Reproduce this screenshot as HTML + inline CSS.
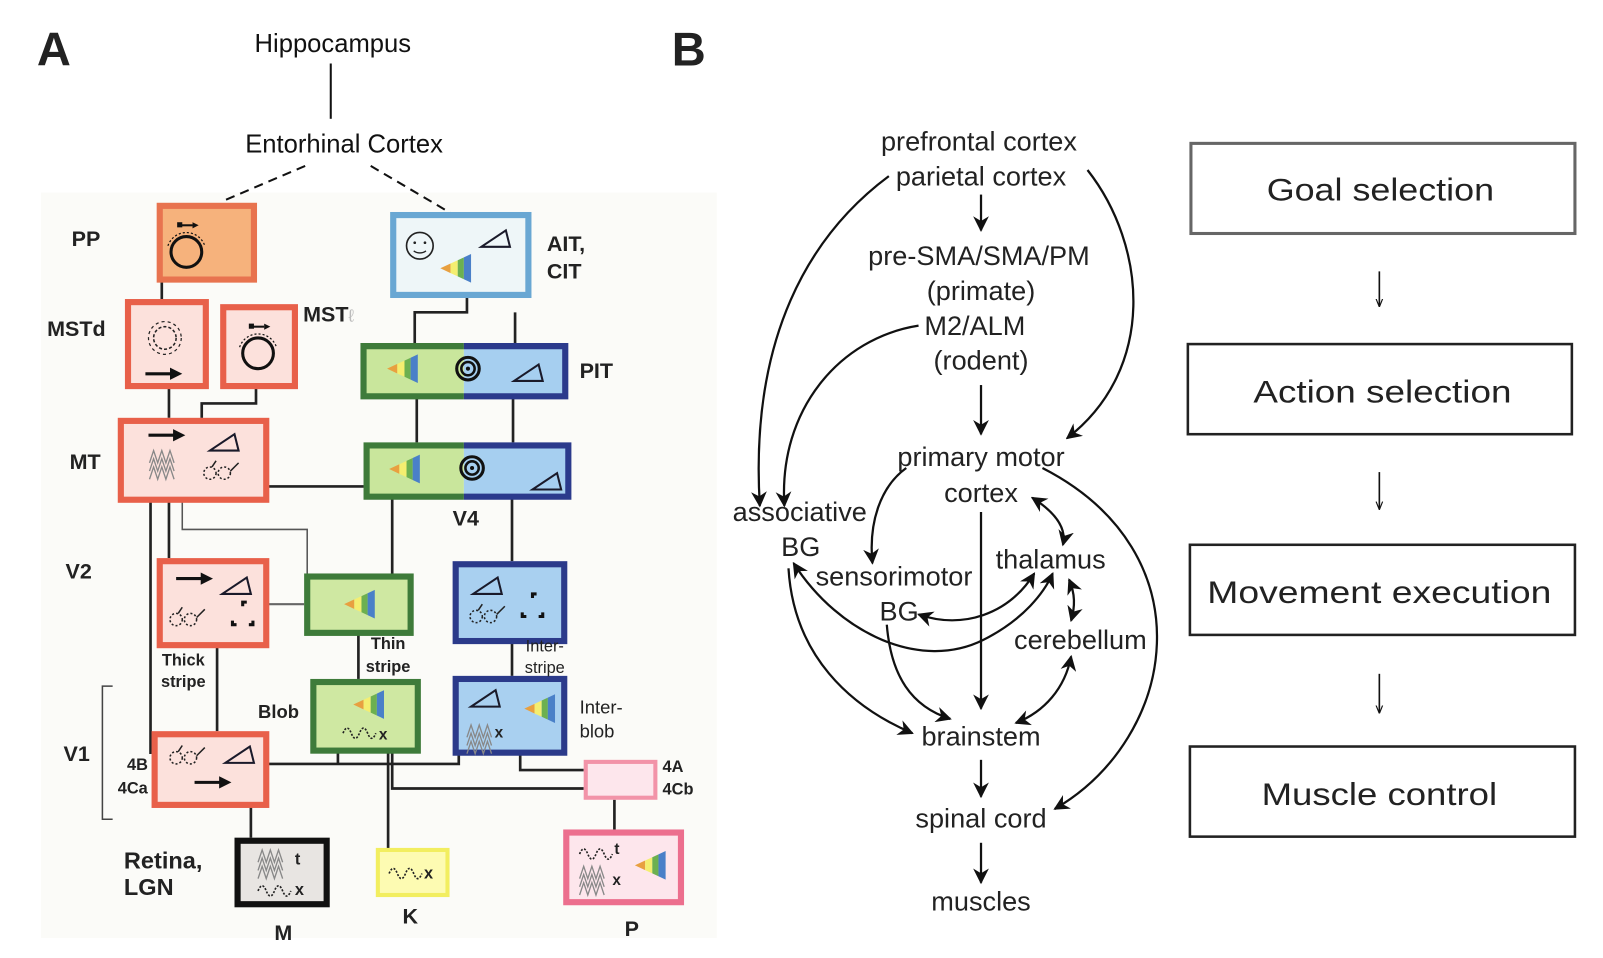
<!DOCTYPE html>
<html><head><meta charset="utf-8"><style>
html,body{margin:0;padding:0;background:#fff;}
svg{display:block;}
.a{font-family:"Liberation Sans",Arial,sans-serif;font-weight:bold;fill:#222;}
.b{font-family:"Liberation Sans",Arial,sans-serif;fill:#222;font-size:26.5px;text-anchor:middle;}
.ln{stroke:#222;stroke-width:2.6;fill:none;}
.cv{stroke:#111;stroke-width:2.2;fill:none;}
</style></head><body>
<svg width="1603" height="958" viewBox="0 0 1565.4 935.5" xmlns="http://www.w3.org/2000/svg">
<defs>
<marker id="ah" viewBox="0 0 10 10" refX="9" refY="5" markerWidth="7" markerHeight="7" orient="auto-start-reverse"><path d="M0,0 L10,5 L0,10 L3,5 Z" fill="#111"/></marker>
<marker id="ah2" viewBox="0 0 10 10" refX="9" refY="5" markerWidth="5" markerHeight="6" orient="auto"><path d="M0,1 L10,5 L0,9" fill="none" stroke="#111" stroke-width="1.4"/></marker>
<g id="spec">
<polygon points="0,0 10,-4.7 10,4.7" fill="#e8a040"/>
<polygon points="10,-4.7 17,-7.9 17,7.9 10,4.7" fill="#f4ee70"/>
<polygon points="17,-7.9 23,-10.7 23,10.7 17,7.9" fill="#6cb050"/>
<polygon points="23,-10.7 30,-14 30,14 23,10.7" fill="#4a80c8"/>
</g>
<g id="ang"><path d="M0,0 H28 L24,-16 Z" fill="none" stroke="#1a1a2a" stroke-width="2"/></g>
<g id="arr"><line x1="0" y1="0" x2="26" y2="0" stroke="#111" stroke-width="3"/><polygon points="24,-6 36,0 24,6" fill="#111"/></g>
<g id="conc"><circle r="11" fill="none" stroke="#111" stroke-width="3"/><circle r="6.5" fill="none" stroke="#111" stroke-width="2.5"/><circle r="2" fill="#111"/></g>
<g id="gls"><circle cx="0" cy="0" r="6" fill="none" stroke="#222" stroke-width="1.5" stroke-dasharray="2 2"/><circle cx="14" cy="0" r="6" fill="none" stroke="#222" stroke-width="1.5" stroke-dasharray="2 2"/><path d="M20,-2 L28,-10" stroke="#222" stroke-width="1.5"/><path d="M2,-6 L6,-12" stroke="#222" stroke-width="1.5"/></g>
<g id="sin"><path d="M0,0 q4,-10 8,0 t8,0 t8,0 t8,0" fill="none" stroke="#222" stroke-width="1.6" stroke-dasharray="2 1.5"/></g>
<g id="grat"><path d="M0,0 l4,-12 l4,12 l4,-12 l4,12 l4,-12 l4,12 M0,8 l4,-12 l4,12 l4,-12 l4,12 l4,-12 l4,12 M0,16 l4,-12 l4,12 l4,-12 l4,12 l4,-12 l4,12" fill="none" stroke="#888" stroke-width="1.3"/></g>
<g id="kan"><path d="M0,-6 v-4 h4" stroke="#111" stroke-width="3" fill="none"/><path d="M-10,8 v4 h4" stroke="#111" stroke-width="3" fill="none"/><path d="M10,8 v4 h-4" stroke="#111" stroke-width="3" fill="none"/></g>
<g id="head"><circle cx="0" cy="0" r="15" fill="none" stroke="#111" stroke-width="3"/><path d="M-18,-6 A19,19 0 0 1 18,-6" fill="none" stroke="#111" stroke-width="1.2" stroke-dasharray="2 2"/><line x1="-6" y1="-26" x2="6" y2="-26" stroke="#111" stroke-width="2"/><polygon points="6,-29 12,-26 6,-23" fill="#111"/><rect x="-9" y="-29" width="5" height="5" fill="#111"/></g>
</defs>

<!-- ================= PANEL A ================= -->
<rect x="40" y="188" width="660" height="728" fill="#fbfbf8"/>
<text x="36" y="64" class="a" font-size="46">A</text>
<text x="325" y="51" font-family="Liberation Sans,Arial,sans-serif" font-size="25" text-anchor="middle" fill="#111">Hippocampus</text>
<line x1="323" y1="62" x2="323" y2="116" stroke="#111" stroke-width="2"/>
<text x="336" y="149" font-family="Liberation Sans,Arial,sans-serif" font-size="25" text-anchor="middle" fill="#111">Entorhinal Cortex</text>
<line x1="298" y1="162" x2="216" y2="197" stroke="#111" stroke-width="2" stroke-dasharray="9 6"/>
<line x1="362" y1="162" x2="440" y2="208" stroke="#111" stroke-width="2" stroke-dasharray="9 6"/>

<!-- connectors -->
<g class="ln">
<path d="M158,275 V292"/>
<path d="M165,379 V408"/>
<path d="M250,379 V394 H197 V408"/>
<path d="M456,290 V305 H405 V335 M503,305 V335"/>
<path d="M407,389 V432 M501,389 V432"/>
<path d="M262,475 H355"/>
<path d="M383,487 V560 M500,487 V548"/>
<path d="M147,490 V735 H148"/>
<path d="M165,490 V545"/>
<path d="M212,632 V714"/>
<path d="M350,620 V663"/>
<path d="M500,628 V660"/>
<path d="M262,746 H448 V737 M330,735 V746"/>
<path d="M383,735 V770 H570 M379,735 V829"/>
<path d="M508,737 V752 H570"/>
<path d="M600,781 V810"/>
<path d="M245,788 V818"/>
</g>
<path d="M178,490 V517 H300 V560" stroke="#555" stroke-width="1.5" fill="none"/>
<path d="M262,590 H297" stroke="#666" stroke-width="2" fill="none"/>
<path d="M110,670 H100 V800 H110" stroke="#444" stroke-width="1.5" fill="none"/>

<!-- PP -->
<rect x="156" y="201" width="92" height="72" fill="#f6b27c" stroke="#e8734f" stroke-width="6"/>
<use href="#head" x="182" y="246"/>
<!-- MSTd -->
<rect x="125" y="295" width="76" height="82" fill="#fce1dc" stroke="#e8604a" stroke-width="6"/>
<circle cx="161" cy="330" r="11" fill="none" stroke="#222" stroke-width="1.5" stroke-dasharray="3 2"/>
<circle cx="161" cy="330" r="16" fill="none" stroke="#222" stroke-width="1.2" stroke-dasharray="3 3"/>
<use href="#arr" x="142" y="365"/>
<!-- MSTl -->
<rect x="218" y="300" width="70" height="77" fill="#fce1dc" stroke="#e8604a" stroke-width="6"/>
<use href="#head" x="252" y="345"/>
<!-- MT -->
<rect x="118" y="411" width="142" height="77" fill="#fce1dc" stroke="#e8604a" stroke-width="6"/>
<use href="#arr" x="145" y="425"/>
<use href="#grat" x="146" y="452"/>
<use href="#ang" x="205" y="440"/>
<use href="#gls" x="205" y="462"/>
<!-- AIT -->
<rect x="384" y="210" width="132" height="78" fill="#eef6f8" stroke="#69a7d3" stroke-width="6"/>
<circle cx="410" cy="240" r="13" fill="none" stroke="#222" stroke-width="1.6"/>
<circle cx="405" cy="237" r="1.3" fill="#222"/><circle cx="415" cy="237" r="1.3" fill="#222"/>
<path d="M404,245 q6,4 12,0" stroke="#222" stroke-width="1.3" fill="none"/>
<use href="#ang" x="470" y="241"/>
<use href="#spec" x="430" y="262"/>
<!-- PIT -->
<rect x="355" y="338" width="98" height="49" fill="#c9e69c"/>
<rect x="453" y="338" width="99" height="49" fill="#a6cff0"/>
<path d="M453,338 H355 V387 H453" fill="none" stroke="#3e7b3a" stroke-width="6"/>
<path d="M453,338 H552 V387 H453" fill="none" stroke="#2b3a8c" stroke-width="6"/>
<use href="#spec" x="378" y="360"/>
<use href="#conc" x="457" y="360"/>
<use href="#ang" x="502" y="372"/>
<!-- V4 -->
<rect x="358" y="435" width="95" height="50" fill="#c9e69c"/>
<rect x="453" y="435" width="102" height="50" fill="#a6cff0"/>
<path d="M453,435 H358 V485 H453" fill="none" stroke="#3e7b3a" stroke-width="6"/>
<path d="M453,435 H555 V485 H453" fill="none" stroke="#2b3a8c" stroke-width="6"/>
<use href="#spec" x="380" y="458"/>
<use href="#conc" x="461" y="457"/>
<use href="#ang" x="520" y="478"/>
<!-- V2 thick -->
<rect x="156" y="548" width="104" height="82" fill="#fce1dc" stroke="#e8604a" stroke-width="6"/>
<use href="#arr" x="172" y="565"/>
<use href="#ang" x="217" y="580"/>
<use href="#gls" x="172" y="605"/>
<use href="#kan" x="237" y="598"/>
<!-- thin stripe -->
<rect x="300" y="563" width="101" height="55" fill="#cfe8a2" stroke="#3e7b3a" stroke-width="6"/>
<use href="#spec" x="336" y="590"/>
<!-- interstripe -->
<rect x="445" y="551" width="106" height="75" fill="#a9d0f0" stroke="#2b3a8a" stroke-width="6"/>
<use href="#ang" x="462" y="580"/>
<use href="#gls" x="465" y="602"/>
<use href="#kan" x="520" y="590"/>
<!-- blob -->
<rect x="306" y="666" width="102" height="67" fill="#cfe8a2" stroke="#3e7b3a" stroke-width="6"/>
<use href="#spec" x="345" y="688"/>
<use href="#sin" x="335" y="716"/>
<text x="370" y="722" class="a" font-size="15">x</text>
<!-- interblob -->
<rect x="445" y="663" width="106" height="72" fill="#a9d0f0" stroke="#2b3a8a" stroke-width="6"/>
<use href="#ang" x="460" y="690"/>
<use href="#spec" x="512" y="692"/>
<use href="#grat" x="456" y="720"/>
<text x="483" y="720" class="a" font-size="15">x</text>
<!-- V1 4B -->
<rect x="151" y="717" width="109" height="69" fill="#fce1dc" stroke="#e8604a" stroke-width="6"/>
<use href="#gls" x="172" y="740"/>
<use href="#ang" x="220" y="745"/>
<use href="#arr" x="190" y="764"/>
<!-- 4A 4Cb -->
<rect x="572" y="744" width="68" height="35" fill="#fde6ec" stroke="#f293a8" stroke-width="4"/>
<!-- M -->
<rect x="232" y="821" width="87" height="62" fill="#e8e5e2" stroke="#111" stroke-width="6"/>
<use href="#grat" x="252" y="842"/>
<text x="288" y="844" class="a" font-size="16">t</text>
<use href="#sin" x="252" y="870"/>
<text x="288" y="874" class="a" font-size="16">x</text>
<!-- K -->
<rect x="369" y="830" width="68" height="44" fill="#fdfbb2" stroke="#f2ee60" stroke-width="4"/>
<use href="#sin" x="380" y="853"/>
<text x="414" y="858" class="a" font-size="16">x</text>
<!-- P -->
<rect x="553" y="813" width="112" height="68" fill="#fde6ec" stroke="#ec6f8e" stroke-width="6"/>
<use href="#sin" x="566" y="834"/>
<text x="600" y="834" class="a" font-size="15">t</text>
<use href="#grat" x="566" y="858"/>
<text x="598" y="864" class="a" font-size="15">x</text>
<use href="#spec" x="620" y="845"/>

<!-- labels A -->
<g class="a" font-size="21">
<text x="70" y="240">PP</text>
<text x="46" y="328">MSTd</text>
<text x="296" y="314">MST<tspan fill="#bbb" font-weight="normal" font-size="17">ℓ</tspan></text>
<text x="68" y="458">MT</text>
<text x="64" y="565">V2</text>
<text x="62" y="743">V1</text>
<text x="534" y="245">AIT,</text>
<text x="534" y="272">CIT</text>
<text x="566" y="369">PIT</text>
<text x="442" y="513">V4</text>
<text x="121" y="848" font-size="23">Retina,</text>
<text x="121" y="874" font-size="23">LGN</text>
<text x="268" y="918">M</text>
<text x="393" y="902">K</text>
<text x="610" y="914">P</text>
</g>
<g class="a" font-size="16">
<text x="179" y="650" text-anchor="middle">Thick</text>
<text x="179" y="671" text-anchor="middle">stripe</text>
<text x="379" y="634" text-anchor="middle">Thin</text>
<text x="379" y="656" text-anchor="middle">stripe</text>
<text x="532" y="636" text-anchor="middle" font-weight="normal">Inter-</text>
<text x="532" y="657" text-anchor="middle" font-weight="normal">stripe</text>
<text x="252" y="701" font-size="18">Blob</text>
<text x="566" y="697" font-weight="normal" font-size="18">Inter-</text>
<text x="566" y="720" font-weight="normal" font-size="18">blob</text>
<text x="124" y="752">4B</text>
<text x="115" y="775">4Ca</text>
<text x="647" y="754">4A</text>
<text x="647" y="776">4Cb</text>
</g>

<!-- ================= PANEL B ================= -->
<text x="656" y="64" class="a" font-size="46">B</text>
<g class="b">
<text x="956" y="147">prefrontal cortex</text>
<text x="958" y="181">parietal cortex</text>
<text x="956" y="259">pre-SMA/SMA/PM</text>
<text x="958" y="293">(primate)</text>
<text x="952" y="327">M2/ALM</text>
<text x="958" y="361">(rodent)</text>
<text x="958" y="455">primary motor</text>
<text x="958" y="490">cortex</text>
<text x="781" y="509">associative</text>
<text x="782" y="543">BG</text>
<text x="873" y="572">sensorimotor</text>
<text x="878" y="606">BG</text>
<text x="1026" y="555">thalamus</text>
<text x="1055" y="634">cerebellum</text>
<text x="958" y="728">brainstem</text>
<text x="958" y="808">spinal cord</text>
<text x="958" y="889">muscles</text>
</g>
<g class="cv">
<path d="M958,190 V225" marker-end="url(#ah)"/>
<path d="M958,376 V424" marker-end="url(#ah)"/>
<path d="M958,742 V778" marker-end="url(#ah)"/>
<path d="M958,823 V862" marker-end="url(#ah)"/>
<path d="M958,500 V692" marker-end="url(#ah)"/>
<path d="M868,172 C790,230 732,330 742,494" marker-end="url(#ah)"/>
<path d="M897,318 C820,330 760,400 766,494" marker-end="url(#ah)"/>
<path d="M1062,166 C1120,240 1130,360 1042,428" marker-end="url(#ah)"/>
<path d="M885,457 C860,475 848,510 852,550" marker-end="url(#ah)"/>
<path d="M1008,486 C1030,500 1042,515 1038,532" marker-start="url(#ah)" marker-end="url(#ah)"/>
<path d="M1044,566 C1050,580 1050,592 1046,606" marker-start="url(#ah)" marker-end="url(#ah)"/>
<path d="M1046,641 C1040,672 1020,695 992,706" marker-start="url(#ah)" marker-end="url(#ah)"/>
<path d="M1018,457 C1180,540 1150,720 1030,790" marker-end="url(#ah)"/>
<path d="M770,555 C775,640 830,690 891,716" marker-end="url(#ah)"/>
<path d="M866,610 C870,660 890,690 928,702" marker-end="url(#ah)"/>
<path d="M775,550 C820,620 900,655 960,625 C1000,605 1020,578 1028,560" marker-start="url(#ah)" marker-end="url(#ah)"/>
<path d="M897,600 C940,615 985,600 1010,560" marker-start="url(#ah)" marker-end="url(#ah)"/>
</g>

<!-- right boxes -->
<g fill="#fff" stroke="#555" stroke-width="2.5">
<rect x="1163" y="140" width="375" height="88" stroke="#666" stroke-width="3"/>
<rect x="1160" y="336" width="375" height="88" stroke="#222"/>
<rect x="1162" y="532" width="376" height="88" stroke="#222"/>
<rect x="1162" y="729" width="376" height="88" stroke="#222"/>
</g>
<g font-family="Liberation Sans,Arial,sans-serif" font-size="31" fill="#222" text-anchor="middle">
<text x="1348" y="196" textLength="222" lengthAdjust="spacingAndGlyphs">Goal selection</text>
<text x="1350" y="393" textLength="252" lengthAdjust="spacingAndGlyphs">Action selection</text>
<text x="1347" y="589" textLength="336" lengthAdjust="spacingAndGlyphs">Movement execution</text>
<text x="1347" y="786" textLength="230" lengthAdjust="spacingAndGlyphs">Muscle control</text>
</g>
<g stroke="#111" stroke-width="1.6" fill="none">
<path d="M1347,265 V299" marker-end="url(#ah2)"/>
<path d="M1347,461 V497" marker-end="url(#ah2)"/>
<path d="M1347,658 V696" marker-end="url(#ah2)"/>
</g>
</svg>
</body></html>
